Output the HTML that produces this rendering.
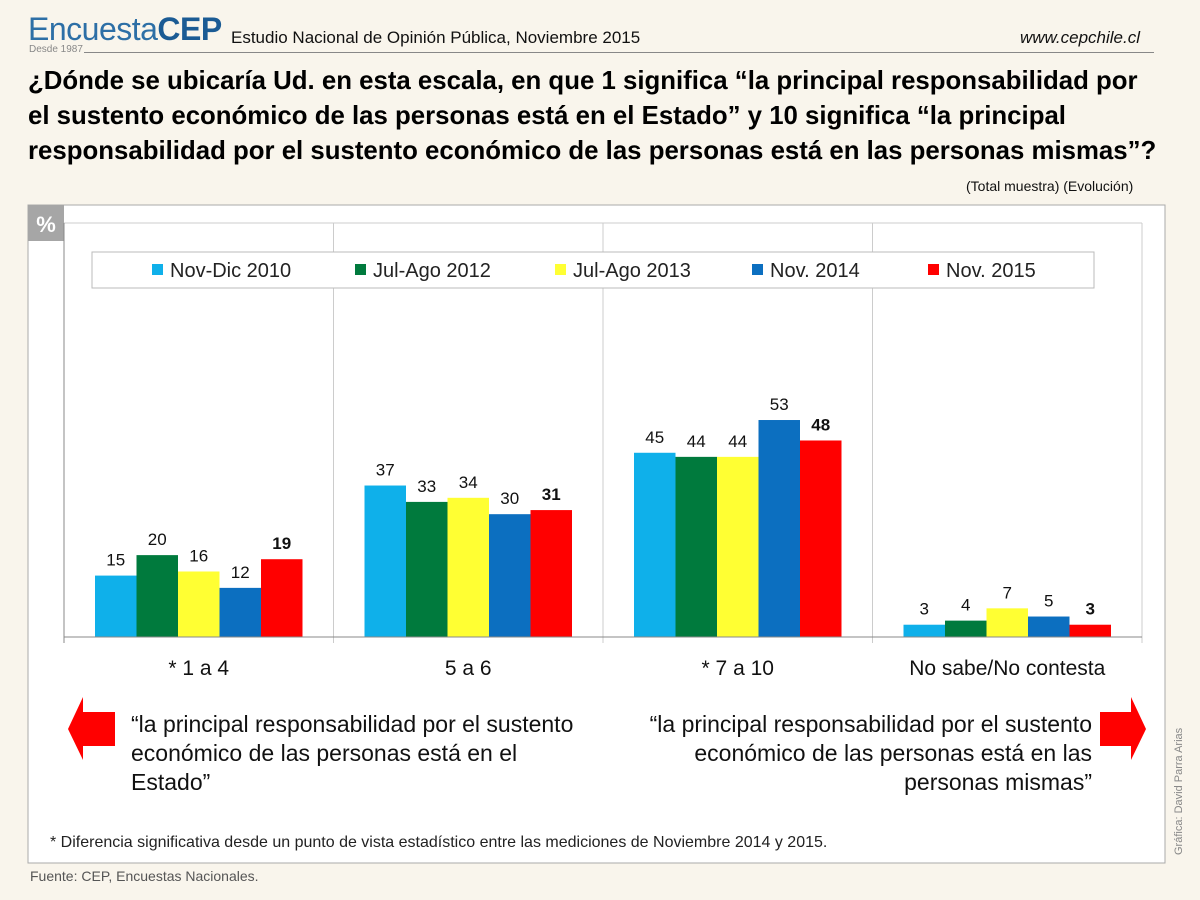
<!DOCTYPE html>
<html><head><meta charset="utf-8"><style>
body{margin:0;width:1200px;height:900px;background:#f9f5ec;overflow:hidden;font-family:"Liberation Sans",sans-serif;position:relative}
.abs{position:absolute;white-space:nowrap}
</style></head><body>
<div class="abs" style="left:28px;top:11px;font-size:32px;color:#2d6fa6;letter-spacing:-0.5px">Encuesta<b style="color:#1b5b94">CEP</b></div>
<div class="abs" style="left:29px;top:44px;font-size:10px;color:#888">Desde 1987</div>
<div class="abs" style="left:84px;top:52px;width:1070px;height:1px;background:#888"></div>
<div class="abs" style="left:231px;top:28px;font-size:17px;color:#111">Estudio Nacional de Opinión Pública, Noviembre 2015</div>
<div class="abs" style="left:1020px;top:28px;font-size:17px;font-style:italic;color:#111">www.cepchile.cl</div>
<div class="abs" style="left:28px;top:64px;font-size:25.8px;font-weight:bold;line-height:35px;color:#000">¿Dónde se ubicaría Ud. en esta escala, en que 1 significa “la principal responsabilidad por<br>el sustento económico de las personas está en el Estado” y 10 significa “la principal<br>responsabilidad por el sustento económico de las personas está en las personas mismas”?</div>
<div class="abs" style="left:966px;top:178px;font-size:14px;color:#111">(Total muestra) (Evolución)</div>
<svg class="abs" style="left:0;top:0" width="1200" height="900">
<rect x="28" y="205" width="1137" height="658" fill="#fff" stroke="#aaa"/>
<rect x="28" y="205" width="36" height="36" fill="#a6a6a6"/>
<text x="46" y="232" text-anchor="middle" font-size="22" font-weight="bold" fill="#fff">%</text>
<g id="plot"></g>
<g><polygon points="68,729 83,697 83,712 115,712 115,746 83,746 83,760" fill="#f00"/></g>
<g><polygon points="1146,729 1131,697 1131,712 1100,712 1100,746 1131,746 1131,760" fill="#f00"/></g>
<text x="1182" y="855" transform="rotate(-90 1182 855)" font-size="11" fill="#888">Gráfica: David Parra Arias</text>
</svg>
<div class="abs" style="left:131px;top:710px;font-size:23px;line-height:29px;color:#111">“la principal responsabilidad por el sustento<br>económico de las personas está en el<br>Estado”</div>
<div class="abs" style="right:108px;top:710px;font-size:23px;line-height:29px;color:#111;text-align:right">“la principal responsabilidad por el sustento<br>económico de las personas está en las<br>personas mismas”</div>
<div class="abs" style="left:50px;top:834px;font-size:16px;color:#222">* Diferencia significativa desde un punto de vista estadístico entre las mediciones de Noviembre 2014 y 2015.</div>
<div class="abs" style="left:30px;top:868px;font-size:14px;color:#555">Fuente: CEP, Encuestas Nacionales.</div>
<script>
const categories=["* 1 a 4","5 a 6","* 7 a 10","No sabe/No contesta"];
const seriesNames=["Nov-Dic 2010","Jul-Ago 2012","Jul-Ago 2013","Nov. 2014","Nov. 2015"];
const s2010=[15,37,45,3];
const s2012=[20,33,44,4];
const s2013=[16,34,44,7];
const s2014=[12,30,53,5];
const s2015=[19,31,48,3];
const series=[s2010,s2012,s2013,s2014,s2015];
const colors=["#0fb0ea","#007a3d","#ffff33","#0c6fc0","#ff0000"];
const NS="http://www.w3.org/2000/svg";
const g=document.getElementById('plot');
const X0=64,X1=1142,BASE=637,TOP=223,PX=4.094;
const gw=(X1-X0)/categories.length, bw=41.5, off=(gw-bw*5)/2;
const y=v=>BASE-v*PX;
function mk(t,a){const e=document.createElementNS(NS,t);for(const k in a)e.setAttribute(k,a[k]);g.appendChild(e);return e;}
let e=mk('line',{x1:X0,y1:TOP,x2:X1,y2:TOP,stroke:'#ccc'});


for(let i=0;i<=categories.length;i++){
 const x=X0+i*gw;
 e=mk('line',{x1:x,y1:TOP,x2:x,y2:BASE+6,stroke:i==0?'#888':'#ccc'});
 
 
}
categories.forEach((c,ci)=>{
 series.forEach((s,si)=>{
  const x=X0+ci*gw+off+si*bw, v=s[ci];
  e=mk('rect',{x:x,y:y(v),width:bw,height:v*PX,fill:colors[si]});
  
  
  e=mk('text',{x:x+bw/2,y:y(v)-10,'text-anchor':'middle','font-size':17,fill:'#111','font-weight':si==4?'bold':'normal'});
  e.textContent=v;
  
  
 });
 e=mk('text',{x:X0+ci*gw+gw/2,y:675,'text-anchor':'middle','font-size':21,fill:'#111'});
 e.textContent=c;
 
 
});
e=mk('line',{x1:X0,y1:BASE,x2:X1,y2:BASE,stroke:'#888'});


e=mk('rect',{x:92,y:252,width:1002,height:36,fill:'#fff',stroke:'#bbb'});


const lx=[152,355,555,752,928];
seriesNames.forEach((n,i)=>{
 e=mk('rect',{x:lx[i],y:264,width:11,height:11,fill:colors[i]});
 
 
 e=mk('text',{x:lx[i]+18,y:277,'font-size':20,fill:'#222'});
 e.textContent=n;
 
 
});
</script>
</body></html>
